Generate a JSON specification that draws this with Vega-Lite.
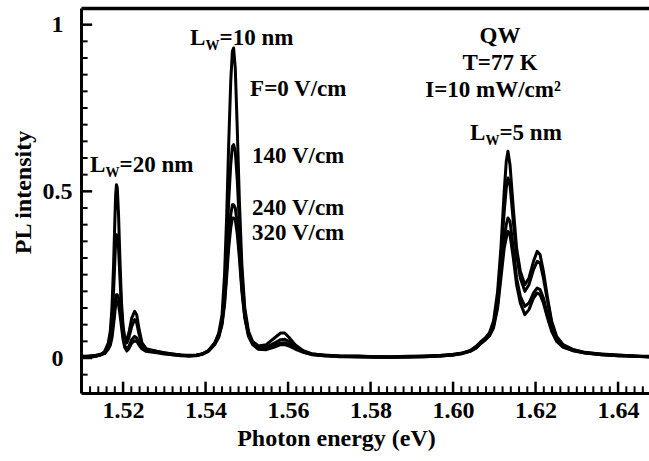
{
  "$schema": "https://vega.github.io/schema/vega-lite/v6.json",
  "width": 568,
  "height": 385,
  "autosize": {"type": "none"},
  "padding": {"left": 81, "top": 8, "right": 0, "bottom": 68},
  "background": "white",
  "config": {
    "view": {"stroke": null},
    "scale": {"continuousPadding": 0},
    "axis": {"grid": false, "labelFont": "Liberation Serif", "titleFont": "Liberation Serif", "labelFontWeight": "bold", "titleFontWeight": "bold", "labelColor": "black", "titleColor": "black", "domainColor": "black"},
    "text": {"font": "Liberation Serif", "fontWeight": "bold", "color": "black"}
  },
  "resolve": {"axis": {"x": "independent", "y": "independent"}},
  "layer": [
    {
      "data": {"values": [
        {"t": 1.512}, {"t": 1.514}, {"t": 1.516}, {"t": 1.518}, {"t": 1.522}, {"t": 1.524}, {"t": 1.526}, {"t": 1.528}, {"t": 1.53}, {"t": 1.532}, {"t": 1.534}, {"t": 1.536}, {"t": 1.538},
        {"t": 1.542}, {"t": 1.544}, {"t": 1.546}, {"t": 1.548}, {"t": 1.55}, {"t": 1.552}, {"t": 1.554}, {"t": 1.556}, {"t": 1.558},
        {"t": 1.562}, {"t": 1.564}, {"t": 1.566}, {"t": 1.568}, {"t": 1.57}, {"t": 1.572}, {"t": 1.574}, {"t": 1.576}, {"t": 1.578},
        {"t": 1.582}, {"t": 1.584}, {"t": 1.586}, {"t": 1.588}, {"t": 1.59}, {"t": 1.592}, {"t": 1.594}, {"t": 1.596}, {"t": 1.598},
        {"t": 1.602}, {"t": 1.604}, {"t": 1.606}, {"t": 1.608}, {"t": 1.61}, {"t": 1.612}, {"t": 1.614}, {"t": 1.616}, {"t": 1.618},
        {"t": 1.622}, {"t": 1.624}, {"t": 1.626}, {"t": 1.628}, {"t": 1.63}, {"t": 1.632}, {"t": 1.634}, {"t": 1.636}, {"t": 1.638},
        {"t": 1.642}, {"t": 1.644}, {"t": 1.646}
      ]},
      "mark": {"type": "bar", "color": "#000000", "width": 2, "opacity": 1},
      "encoding": {
        "x": {"field": "t", "type": "quantitative",
          "scale": {"domain": [1.5098, 1.6475], "nice": false, "zero": false, "padding": 0}, "axis": null},
        "y": {"datum": -0.105, "type": "quantitative",
          "scale": {"domain": [-0.105, 1.05], "nice": false, "zero": false, "padding": 0}, "axis": null},
        "y2": {"datum": -0.085}
      }
    },
    {
      "data": {"values": [
        {"t": 1.52}, {"t": 1.54}, {"t": 1.56}, {"t": 1.58}, {"t": 1.6}, {"t": 1.62}, {"t": 1.64}
      ]},
      "mark": {"type": "bar", "color": "#000000", "width": 2.5, "opacity": 1},
      "encoding": {
        "x": {"field": "t", "type": "quantitative",
          "scale": {"domain": [1.5098, 1.6475], "nice": false, "zero": false, "padding": 0}, "axis": null},
        "y": {"datum": -0.105, "type": "quantitative",
          "scale": {"domain": [-0.105, 1.05], "nice": false, "zero": false, "padding": 0}, "axis": null},
        "y2": {"datum": -0.071}
      }
    },
    {
      "data": {"values": [
        {"t": -0.05}, {"t": 0.05}, {"t": 0.1}, {"t": 0.15}, {"t": 0.2}, {"t": 0.25}, {"t": 0.3}, {"t": 0.35}, {"t": 0.4}, {"t": 0.45},
        {"t": 0.55}, {"t": 0.6}, {"t": 0.65}, {"t": 0.7}, {"t": 0.75}, {"t": 0.8}, {"t": 0.85}, {"t": 0.9}, {"t": 0.95}
      ]},
      "mark": {"type": "bar", "color": "#000000", "height": 2, "opacity": 1},
      "encoding": {
        "y": {"field": "t", "type": "quantitative",
          "scale": {"domain": [-0.105, 1.05], "nice": false, "zero": false, "padding": 0}, "axis": null},
        "x": {"datum": 1.5098, "type": "quantitative",
          "scale": {"domain": [1.5098, 1.6475], "nice": false, "zero": false, "padding": 0}, "axis": null},
        "x2": {"datum": 1.5114}
      }
    },
    {
      "data": {"values": [
        {"t": 0}, {"t": 0.5}, {"t": 1}
      ]},
      "mark": {"type": "bar", "color": "#000000", "height": 2.5, "opacity": 1},
      "encoding": {
        "y": {"field": "t", "type": "quantitative",
          "scale": {"domain": [-0.105, 1.05], "nice": false, "zero": false, "padding": 0}, "axis": null},
        "x": {"datum": 1.5098, "type": "quantitative",
          "scale": {"domain": [1.5098, 1.6475], "nice": false, "zero": false, "padding": 0}, "axis": null},
        "x2": {"datum": 1.5125}
      }
    },
    {
      "data": {"values": [
        {"x": 1.5098, "a": 0.004, "b": 0.001, "c": 0.006, "d": 0.002},
        {"x": 1.5110, "a": 0.003, "b": 0.003, "c": 0.005, "d": 0.004},
        {"x": 1.5122, "a": 0.005, "b": 0.002, "c": 0.007, "d": 0.004},
        {"x": 1.5134, "a": 0.006, "b": 0.005, "c": 0.008, "d": 0.006},
        {"x": 1.5145, "a": 0.010, "b": 0.009, "c": 0.011, "d": 0.009},
        {"x": 1.5155, "a": 0.019, "b": 0.016, "c": 0.015, "d": 0.013},
        {"x": 1.5164, "a": 0.045, "b": 0.036, "c": 0.030, "d": 0.026},
        {"x": 1.5169, "a": 0.08, "b": 0.06, "c": 0.045, "d": 0.038},
        {"x": 1.5173, "a": 0.15, "b": 0.11, "c": 0.07, "d": 0.06},
        {"x": 1.5177, "a": 0.28, "b": 0.20, "c": 0.115, "d": 0.10},
        {"x": 1.5180, "a": 0.41, "b": 0.29, "c": 0.155, "d": 0.135},
        {"x": 1.5182, "a": 0.49, "b": 0.35, "c": 0.18, "d": 0.16},
        {"x": 1.5184, "a": 0.52, "b": 0.37, "c": 0.19, "d": 0.17},
        {"x": 1.5186, "a": 0.51, "b": 0.365, "c": 0.19, "d": 0.17},
        {"x": 1.5189, "a": 0.43, "b": 0.33, "c": 0.18, "d": 0.16},
        {"x": 1.5192, "a": 0.31, "b": 0.25, "c": 0.155, "d": 0.135},
        {"x": 1.5196, "a": 0.17, "b": 0.15, "c": 0.11, "d": 0.095},
        {"x": 1.5200, "a": 0.095, "b": 0.085, "c": 0.065, "d": 0.055},
        {"x": 1.5204, "a": 0.062, "b": 0.052, "c": 0.038, "d": 0.032},
        {"x": 1.5209, "a": 0.055, "b": 0.045, "c": 0.026, "d": 0.021},
        {"x": 1.5214, "a": 0.075, "b": 0.06, "c": 0.035, "d": 0.028},
        {"x": 1.5221, "a": 0.12, "b": 0.095, "c": 0.055, "d": 0.045},
        {"x": 1.5228, "a": 0.14, "b": 0.115, "c": 0.065, "d": 0.052},
        {"x": 1.5233, "a": 0.13, "b": 0.105, "c": 0.06, "d": 0.05},
        {"x": 1.5239, "a": 0.085, "b": 0.07, "c": 0.045, "d": 0.038},
        {"x": 1.5246, "a": 0.045, "b": 0.04, "c": 0.03, "d": 0.027},
        {"x": 1.5256, "a": 0.028, "b": 0.026, "c": 0.022, "d": 0.02},
        {"x": 1.5268, "a": 0.024, "b": 0.023, "c": 0.020, "d": 0.018},
        {"x": 1.5282, "a": 0.020, "b": 0.019, "c": 0.017, "d": 0.016},
        {"x": 1.5300, "a": 0.016, "b": 0.015, "c": 0.014, "d": 0.012},
        {"x": 1.5320, "a": 0.012, "b": 0.012, "c": 0.010, "d": 0.010},
        {"x": 1.5340, "a": 0.009, "b": 0.008, "c": 0.008, "d": 0.007},
        {"x": 1.5360, "a": 0.007, "b": 0.008, "c": 0.006, "d": 0.006},
        {"x": 1.5378, "a": 0.008, "b": 0.009, "c": 0.008, "d": 0.007},
        {"x": 1.5392, "a": 0.012, "b": 0.012, "c": 0.012, "d": 0.011},
        {"x": 1.5407, "a": 0.022, "b": 0.022, "c": 0.021, "d": 0.020},
        {"x": 1.5422, "a": 0.045, "b": 0.044, "c": 0.043, "d": 0.040},
        {"x": 1.5432, "a": 0.075, "b": 0.07, "c": 0.066, "d": 0.062},
        {"x": 1.5440, "a": 0.13, "b": 0.115, "c": 0.105, "d": 0.10},
        {"x": 1.5446, "a": 0.25, "b": 0.20, "c": 0.17, "d": 0.16},
        {"x": 1.5451, "a": 0.42, "b": 0.32, "c": 0.26, "d": 0.24},
        {"x": 1.5456, "a": 0.64, "b": 0.47, "c": 0.36, "d": 0.33},
        {"x": 1.5461, "a": 0.83, "b": 0.58, "c": 0.43, "d": 0.39},
        {"x": 1.5465, "a": 0.92, "b": 0.635, "c": 0.46, "d": 0.42},
        {"x": 1.5468, "a": 0.93, "b": 0.64, "c": 0.46, "d": 0.42},
        {"x": 1.5472, "a": 0.87, "b": 0.62, "c": 0.45, "d": 0.415},
        {"x": 1.5477, "a": 0.68, "b": 0.53, "c": 0.40, "d": 0.37},
        {"x": 1.5482, "a": 0.47, "b": 0.40, "c": 0.32, "d": 0.30},
        {"x": 1.5488, "a": 0.28, "b": 0.25, "c": 0.21, "d": 0.20},
        {"x": 1.5495, "a": 0.15, "b": 0.14, "c": 0.125, "d": 0.12},
        {"x": 1.5504, "a": 0.08, "b": 0.075, "c": 0.07, "d": 0.065},
        {"x": 1.5514, "a": 0.05, "b": 0.045, "c": 0.043, "d": 0.04},
        {"x": 1.5528, "a": 0.036, "b": 0.031, "c": 0.028, "d": 0.026},
        {"x": 1.5547, "a": 0.04, "b": 0.032, "c": 0.028, "d": 0.025},
        {"x": 1.5567, "a": 0.06, "b": 0.045, "c": 0.038, "d": 0.033},
        {"x": 1.5582, "a": 0.075, "b": 0.055, "c": 0.045, "d": 0.04},
        {"x": 1.5592, "a": 0.075, "b": 0.056, "c": 0.046, "d": 0.04},
        {"x": 1.5602, "a": 0.062, "b": 0.05, "c": 0.04, "d": 0.036},
        {"x": 1.5617, "a": 0.04, "b": 0.035, "c": 0.03, "d": 0.027},
        {"x": 1.5637, "a": 0.022, "b": 0.02, "c": 0.018, "d": 0.017},
        {"x": 1.5657, "a": 0.013, "b": 0.012, "c": 0.011, "d": 0.01},
        {"x": 1.5687, "a": 0.008, "b": 0.009, "c": 0.007, "d": 0.007},
        {"x": 1.5727, "a": 0.005, "b": 0.006, "c": 0.004, "d": 0.005},
        {"x": 1.5770, "a": 0.004, "b": 0.006, "c": 0.003, "d": 0.005},
        {"x": 1.5810, "a": 0.003, "b": 0.004, "c": 0.002, "d": 0.004},
        {"x": 1.5850, "a": 0.002, "b": 0.004, "c": 0.002, "d": 0.003},
        {"x": 1.5890, "a": 0.003, "b": 0.005, "c": 0.003, "d": 0.004},
        {"x": 1.5930, "a": 0.004, "b": 0.006, "c": 0.004, "d": 0.005},
        {"x": 1.5970, "a": 0.006, "b": 0.008, "c": 0.006, "d": 0.007},
        {"x": 1.6000, "a": 0.009, "b": 0.011, "c": 0.009, "d": 0.010},
        {"x": 1.6022, "a": 0.014, "b": 0.015, "c": 0.013, "d": 0.014},
        {"x": 1.6041, "a": 0.022, "b": 0.022, "c": 0.020, "d": 0.020},
        {"x": 1.6056, "a": 0.035, "b": 0.033, "c": 0.030, "d": 0.030},
        {"x": 1.6068, "a": 0.05, "b": 0.048, "c": 0.045, "d": 0.044},
        {"x": 1.6078, "a": 0.06, "b": 0.058, "c": 0.055, "d": 0.054},
        {"x": 1.6088, "a": 0.075, "b": 0.07, "c": 0.068, "d": 0.066},
        {"x": 1.6098, "a": 0.11, "b": 0.10, "c": 0.095, "d": 0.09},
        {"x": 1.6108, "a": 0.20, "b": 0.18, "c": 0.16, "d": 0.15},
        {"x": 1.6116, "a": 0.33, "b": 0.30, "c": 0.26, "d": 0.24},
        {"x": 1.6124, "a": 0.50, "b": 0.44, "c": 0.36, "d": 0.33},
        {"x": 1.6129, "a": 0.59, "b": 0.51, "c": 0.40, "d": 0.36},
        {"x": 1.6133, "a": 0.62, "b": 0.54, "c": 0.42, "d": 0.38},
        {"x": 1.6138, "a": 0.58, "b": 0.52, "c": 0.41, "d": 0.37},
        {"x": 1.6146, "a": 0.45, "b": 0.41, "c": 0.33, "d": 0.30},
        {"x": 1.6154, "a": 0.33, "b": 0.31, "c": 0.24, "d": 0.22},
        {"x": 1.6163, "a": 0.26, "b": 0.24, "c": 0.185, "d": 0.165},
        {"x": 1.6174, "a": 0.22, "b": 0.20, "c": 0.155, "d": 0.13},
        {"x": 1.6184, "a": 0.24, "b": 0.22, "c": 0.165, "d": 0.145},
        {"x": 1.6195, "a": 0.29, "b": 0.265, "c": 0.195, "d": 0.18},
        {"x": 1.6204, "a": 0.32, "b": 0.29, "c": 0.21, "d": 0.195},
        {"x": 1.6211, "a": 0.31, "b": 0.285, "c": 0.205, "d": 0.19},
        {"x": 1.6219, "a": 0.26, "b": 0.24, "c": 0.18, "d": 0.165},
        {"x": 1.6229, "a": 0.18, "b": 0.17, "c": 0.13, "d": 0.12},
        {"x": 1.6239, "a": 0.11, "b": 0.105, "c": 0.085, "d": 0.08},
        {"x": 1.6251, "a": 0.065, "b": 0.06, "c": 0.052, "d": 0.05},
        {"x": 1.6267, "a": 0.04, "b": 0.038, "c": 0.034, "d": 0.032},
        {"x": 1.6290, "a": 0.026, "b": 0.025, "c": 0.023, "d": 0.022},
        {"x": 1.6320, "a": 0.017, "b": 0.016, "c": 0.015, "d": 0.015},
        {"x": 1.6360, "a": 0.011, "b": 0.012, "c": 0.010, "d": 0.010},
        {"x": 1.6400, "a": 0.008, "b": 0.009, "c": 0.007, "d": 0.007},
        {"x": 1.6440, "a": 0.006, "b": 0.006, "c": 0.005, "d": 0.005},
        {"x": 1.6475, "a": 0.004, "b": 0.005, "c": 0.003, "d": 0.004}
      ]},
      "transform": [{"fold": ["a", "b", "c", "d"], "as": ["series", "v"]}],
      "mark": {"type": "line", "color": "black", "strokeWidth": 3, "strokeJoin": "round"},
      "encoding": {
        "x": {"field": "x", "type": "quantitative",
          "scale": {"domain": [1.5098, 1.6475], "nice": false, "zero": false, "padding": 0}, "axis": null},
        "y": {"field": "v", "type": "quantitative",
          "scale": {"domain": [-0.105, 1.05], "nice": false, "zero": false, "padding": 0}, "axis": null},
        "detail": {"field": "series"}
      }
    },
    {
      "data": {"values": [
        {"x": 1.5120, "y": 0.558, "t": "L"},
        {"x": 1.51915, "y": 0.558, "t": "=20 nm"},
        {"x": 1.53624, "y": 0.939, "t": "L"},
        {"x": 1.54339, "y": 0.939, "t": "=10 nm"},
        {"x": 1.55079, "y": 0.786, "t": "F=0 V/cm"},
        {"x": 1.55127, "y": 0.585, "t": "140 V/cm"},
        {"x": 1.55127, "y": 0.429, "t": "240 V/cm"},
        {"x": 1.55127, "y": 0.354, "t": "320 V/cm"},
        {"x": 1.60411, "y": 0.654, "t": "L"},
        {"x": 1.61126, "y": 0.654, "t": "=5 nm"}
      ]},
      "mark": {"type": "text", "align": "left", "baseline": "alphabetic", "fontSize": 23},
      "encoding": {
        "x": {"field": "x", "type": "quantitative",
          "scale": {"domain": [1.5098, 1.6475], "nice": false, "zero": false, "padding": 0},
          "axis": {"orient": "bottom", "values": [1.52, 1.54, 1.56, 1.58, 1.6, 1.62, 1.64], "format": ".2f",
            "ticks": false, "domainWidth": 3, "labelFontSize": 24, "labelPadding": 5,
            "title": "Photon energy (eV)", "titleFontSize": 24, "titleX": 255, "titleY": 33, "titleBaseline": "top"}},
        "y": {"field": "y", "type": "quantitative",
          "scale": {"domain": [-0.105, 1.05], "nice": false, "zero": false, "padding": 0},
          "axis": {"orient": "left", "values": [0, 0.5, 1], "format": "~g",
            "ticks": false, "domainWidth": 3, "labelFontSize": 24, "labelAlign": "center", "labelPadding": 24,
            "title": "PL intensity", "titleFontSize": 24, "titleX": -46, "titleY": 184}},
        "text": {"field": "t"}
      }
    },
    {
      "data": {"values": [
        {"x": 1.61139, "y": 0.945, "t": "QW"},
        {"x": 1.61139, "y": 0.864, "t": "T=77 K"},
        {"x": 1.60969, "y": 0.783, "t": "I=10 mW/cm²"}
      ]},
      "mark": {"type": "text", "align": "center", "baseline": "alphabetic", "fontSize": 23},
      "encoding": {
        "x": {"field": "x", "type": "quantitative",
          "scale": {"domain": [1.5098, 1.6475], "nice": false, "zero": false, "padding": 0},
          "axis": {"orient": "top", "ticks": false, "labels": false, "title": null, "domainWidth": 3.5}},
        "y": {"field": "y", "type": "quantitative",
          "scale": {"domain": [-0.105, 1.05], "nice": false, "zero": false, "padding": 0}, "axis": null},
        "text": {"field": "t"}
      }
    },
    {
      "data": {"values": [
        {"x": 1.51576, "y": 0.543, "t": "W"},
        {"x": 1.54000, "y": 0.924, "t": "W"},
        {"x": 1.60787, "y": 0.639, "t": "W"}
      ]},
      "mark": {"type": "text", "align": "left", "baseline": "alphabetic", "fontSize": 14},
      "encoding": {
        "x": {"field": "x", "type": "quantitative",
          "scale": {"domain": [1.5098, 1.6475], "nice": false, "zero": false, "padding": 0}, "axis": null},
        "y": {"field": "y", "type": "quantitative",
          "scale": {"domain": [-0.105, 1.05], "nice": false, "zero": false, "padding": 0}, "axis": null},
        "text": {"field": "t"}
      }
    }
  ]
}
